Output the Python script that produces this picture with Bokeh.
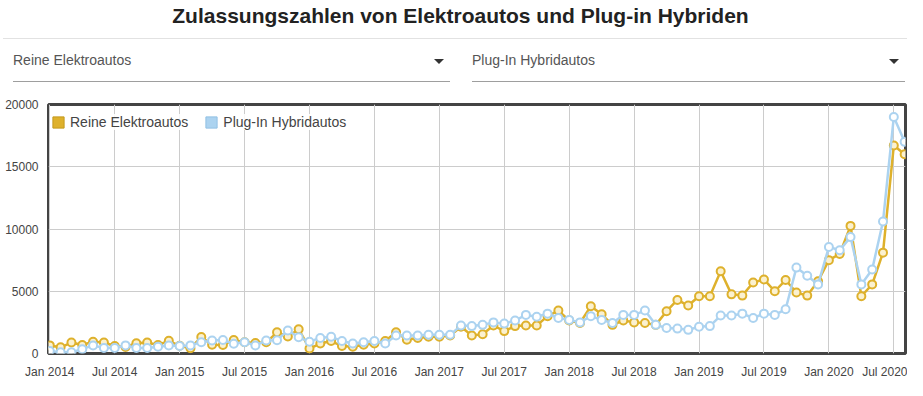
from bokeh.plotting import figure
from bokeh.models import (Range1d, FixedTicker, Legend, LegendItem, Div,
                          ColumnDataSource, NumeralTickFormatter)
from bokeh.layouts import column
from bokeh.embed import file_html
from bokeh.resources import INLINE

title_text = "Zulassungszahlen von Elektroautos und Plug-in Hybriden"
series_names = ["Reine Elektroautos", "Plug-In Hybridautos"]
tick_labels = ["Jan 2014", "Jul 2014", "Jan 2015", "Jul 2015", "Jan 2016", "Jul 2016",
               "Jan 2017", "Jul 2017", "Jan 2018", "Jul 2018", "Jan 2019", "Jul 2019",
               "Jan 2020", "Jul 2020"]
y_ticks = [0, 5000, 10000, 15000, 20000]

# monthly registrations Jan 2014 .. Aug 2020
bev = [650, 500, 880, 680, 950, 880, 600, 520, 820, 880, 680, 1020,
       620, 420, 1330, 700, 680, 1080, 900, 850, 900, 1700, 1370, 1950,
       400, 800, 1000, 600, 550, 700, 800, 1000, 1700, 1100, 1250, 1350,
       1350, 1450, 2150, 1450, 1550, 2250, 1800, 2200, 2250, 2250, 3000, 3450,
       2650, 2450, 3800, 3150, 2300, 2650, 2500, 2450, 2300, 3400, 4300, 3850,
       4600, 4600, 6600, 4750, 4650, 5700, 5950, 5000, 5900, 4900, 4650, 5800,
       7500, 8000, 10250, 4600, 5550, 8100, 16700, 16000]
phev = [200, 100, 100, 350, 650, 450, 450, 650, 450, 450, 550, 650,
        600, 650, 910, 1050, 1080, 780, 910, 650, 1040, 1070, 1850, 1300,
        950, 1250, 1350, 1000, 800, 900, 1000, 800, 1450, 1450, 1450, 1500,
        1500, 1500, 2250, 2200, 2300, 2500, 2400, 2650, 3100, 2950, 3200, 2850,
        2700, 2500, 3000, 2700, 2450, 3100, 3100, 3450, 2300, 2050, 2000, 1900,
        2150, 2200, 3050, 3050, 3200, 2850, 3200, 3100, 3550, 6900, 6250, 5550,
        8550, 8300, 9350, 5550, 6750, 10600, 19000, 17000]
months = list(range(len(bev)))

YELLOW = "#deb12c"
YELLOW_DARK = "#c49a1e"
BLUE = "#acd3f0"
BLUE_DARK = "#92c0e4"
FONT = "Liberation Sans"

# ---------------- header: title + two dropdown-style selectors ----------------
def dropdown(left, width, label):
    return (
        f'<div style="position:absolute;left:{left}px;top:52px;font-size:14px;'
        f'line-height:16px;color:#555555;white-space:nowrap;">{label}</div>'
        f'<div style="position:absolute;left:{left + width - 16}px;top:59px;width:0;height:0;'
        f'border-left:5px solid transparent;border-right:5px solid transparent;'
        f'border-top:5px solid #333333;"></div>'
        f'<div style="position:absolute;left:{left}px;top:81px;width:{width}px;height:1px;'
        f'background:#9e9e9e;"></div>'
    )

header_html = (
    f'<div style="position:relative;width:907px;height:96px;overflow:hidden;'
    f'font-family:\'{FONT}\',Arial,sans-serif;">'
    f'<div style="position:absolute;left:0;top:4px;width:921px;text-align:center;'
    f'font-size:21px;line-height:24px;font-weight:bold;color:#222222;white-space:nowrap;">'
    f'{title_text}</div>'
    f'<div style="position:absolute;left:3px;top:38px;width:904px;height:1px;background:#e2e2e2;"></div>'
    + dropdown(13, 437, series_names[0])
    + dropdown(472, 433, series_names[1])
    + '</div>'
)
header = Div(text=header_html, width=907, height=96, margin=0)

# ---------------- chart ----------------
p = figure(width=907, height=292, x_range=Range1d(-0.12, 79.08), y_range=Range1d(0, 20000),
           output_backend="svg", toolbar_location=None,
           min_border_left=48, min_border_right=2, min_border_top=8, min_border_bottom=35)
p.outline_line_color = "#444444"
p.outline_line_width = 3

x_tick_pos = [i * 6 for i in range(len(tick_labels))]
p.xaxis.ticker = FixedTicker(ticks=x_tick_pos)
p.xaxis.major_label_overrides = {t: lab for t, lab in zip(x_tick_pos, tick_labels)}
p.yaxis.ticker = FixedTicker(ticks=y_ticks)
p.yaxis.formatter = NumeralTickFormatter(format="0")
for ax in (p.xaxis, p.yaxis):
    ax.axis_line_color = None
    ax.major_tick_line_color = None
    ax.minor_tick_line_color = None
    ax.major_label_text_font = FONT
    ax.major_label_text_font_size = "12px"
    ax.major_label_text_color = "#444444"
p.xaxis.major_label_standoff = 5
p.yaxis.major_label_standoff = 4
p.xgrid.grid_line_color = "#cccccc"
p.ygrid.grid_line_color = "#cccccc"

src = ColumnDataSource(data=dict(m=months, bev=bev, phev=phev))
p.line("m", "bev", source=src, line_color=YELLOW, line_width=2.5)
p.scatter("m", "bev", source=src, marker="circle", size=8, fill_color="#fbf1cf",
          line_color=YELLOW, line_width=2)
p.line("m", "phev", source=src, line_color=BLUE, line_width=2.5)
p.scatter("m", "phev", source=src, marker="circle", size=8, fill_color="white",
          line_color=BLUE, line_width=2)

nan = float("nan")
swatch = ColumnDataSource(data=dict(l=[nan], r=[nan], t=[nan], b=[nan]))
q1 = p.quad(left="l", right="r", top="t", bottom="b", source=swatch,
            fill_color=YELLOW, line_color=YELLOW_DARK, line_width=1)
q2 = p.quad(left="l", right="r", top="t", bottom="b", source=swatch,
            fill_color=BLUE, line_color=BLUE_DARK, line_width=1)
legend = Legend(items=[LegendItem(label=series_names[0], renderers=[q1]),
                       LegendItem(label=series_names[1], renderers=[q2])],
                orientation="horizontal", location=(3, 223),
                glyph_width=14, glyph_height=14, label_height=14,
                label_text_font=FONT, label_text_font_size="14px",
                label_text_color="#444444", label_standoff=5, spacing=16,
                padding=3, margin=0, background_fill_color="white",
                background_fill_alpha=0.85, border_line_color=None)
p.add_layout(legend)

layout = column(header, p, spacing=0)
open("out.html", "w").write(file_html(layout, INLINE))
